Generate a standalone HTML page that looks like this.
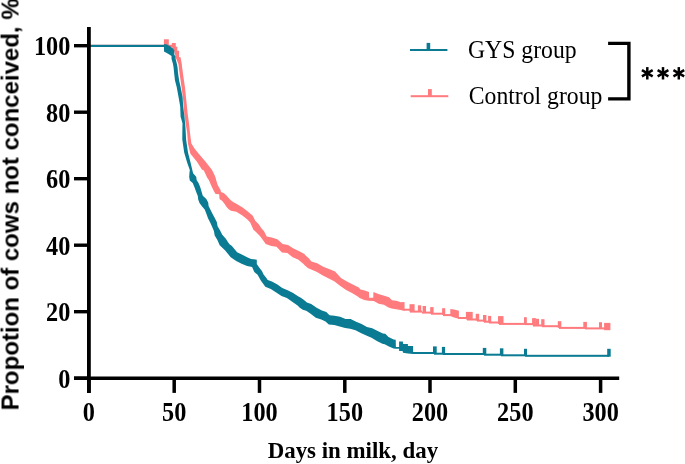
<!DOCTYPE html>
<html><head><meta charset="utf-8"><style>
html,body{margin:0;padding:0;background:#fff;}
body{width:685px;height:464px;overflow:hidden;position:relative;}
svg{position:absolute;left:0;top:0;}
text{will-change:transform;}
.tk{font-family:"Liberation Serif",serif;font-weight:bold;font-size:24.3px;fill:#000;}
.lg{font-family:"Liberation Serif",serif;font-size:23.7px;fill:#000;}
.xt{font-family:"Liberation Serif",serif;font-weight:bold;font-size:22.9px;fill:#000;}
.yt{font-family:"Liberation Sans",sans-serif;font-weight:bold;font-size:24.0px;fill:#000;}
</style></head><body>
<svg width="685" height="464" viewBox="0 0 685 464">
<rect x="89" y="44.8" width="84" height="2.2" fill="#ff7b7e"/><polygon points="171.8,43.1 175.8,43.1 175.8,46.8 177.3,46.8 177.3,50.7 179.1,50.7 179.1,56.9 180.5,57.3 181.8,63.9 182.1,67.1 183.2,75.3 185.1,88.3 186.4,101.2 187.7,114.1 189.0,123.2 190.0,132.9 191.3,143.3 194.5,148.4 198.5,153.5 205.2,161.3 211.9,169.8 214.5,174.9 215.6,177.8 216.1,180.1 217.8,185.2 220.8,190.5 220.9,191.9 223.7,193.1 226.5,195.6 228.7,198.1 230.7,200.3 233.2,202.0 236.4,203.7 243.0,207.8 248.1,211.7 252.8,215.7 255.4,220.9 258.6,224.1 261.2,228.0 264.2,231.6 266.7,236.5 271.7,237.5 277.3,239.2 282.7,244.1 288.0,245.1 293.5,248.4 298.9,251.1 304.4,253.9 305.6,255.5 308.8,258.2 311.4,261.4 317.2,263.2 323.2,266.7 329.0,269.1 335.1,271.5 341.0,278.1 346.9,281.6 352.8,284.5 358.8,287.6 360.5,289.6 364.7,290.6 369.0,292.0 369.2,297.7 373.3,297.7 373.4,292.0 379.1,294.2 384.3,295.7 389.0,297.3 392.0,300.3 396.3,300.7 400.8,302.2 404.5,302.1 404.6,308.8 404.6,311.0 400.6,310.0 396.1,309.3 391.6,308.5 388.5,307.4 383.9,304.8 378.7,303.7 373.8,301.1 368.4,300.8 364.3,300.1 359.6,298.1 357.8,296.5 352.0,293.0 346.1,290.1 340.0,285.8 334.2,281.2 328.3,278.2 322.4,275.3 316.5,271.7 310.6,269.3 307.8,268.1 304.4,265.0 303.3,263.7 298.1,259.5 292.7,257.3 287.4,253.1 281.9,252.6 276.5,246.7 271.3,246.1 265.7,243.9 262.9,240.1 259.7,235.8 255.5,231.6 253.4,229.8 252.1,226.7 250.2,222.4 247.1,219.3 242.0,215.2 236.3,211.8 230.9,210.7 228.4,209.0 226.6,207.0 224.6,204.0 222.3,201.1 219.5,199.0 219.2,194.3 215.6,194.0 213.8,191.1 211.3,185.8 209.1,180.6 206.9,177.3 206.2,175.4 203.8,170.4 201.9,169.5 196.8,161.5 190.4,153.7 189.1,148.5 187.9,143.3 187.2,132.9 185.6,123.2 184.3,114.1 183.3,101.2 181.7,88.3 179.8,75.3 178.4,64.0 175.7,57.4 174.1,50.8 171.9,46.9" fill="#ff7b7e"/><rect x="404.0" y="308.70" width="6.0" height="2.0" fill="#ff7b7e"/><rect x="410.0" y="310.60" width="12.0" height="2.0" fill="#ff7b7e"/><rect x="422.0" y="311.60" width="9.0" height="2.0" fill="#ff7b7e"/><rect x="431.0" y="312.70" width="12.0" height="2.0" fill="#ff7b7e"/><rect x="443.0" y="314.10" width="8.0" height="2.0" fill="#ff7b7e"/><rect x="458.0" y="317.00" width="9.0" height="2.0" fill="#ff7b7e"/><rect x="467.0" y="318.50" width="10.0" height="2.0" fill="#ff7b7e"/><rect x="477.0" y="319.60" width="7.0" height="2.0" fill="#ff7b7e"/><rect x="484.0" y="320.70" width="5.0" height="2.0" fill="#ff7b7e"/><rect x="489.0" y="321.50" width="10.0" height="2.0" fill="#ff7b7e"/><rect x="499.0" y="322.90" width="26.0" height="2.0" fill="#ff7b7e"/><rect x="525.0" y="323.10" width="8.0" height="2.0" fill="#ff7b7e"/><rect x="533.0" y="324.50" width="9.0" height="2.0" fill="#ff7b7e"/><rect x="542.0" y="325.20" width="17.0" height="2.0" fill="#ff7b7e"/><rect x="559.0" y="326.90" width="26.0" height="2.0" fill="#ff7b7e"/><rect x="585.0" y="327.40" width="21.0" height="2.0" fill="#ff7b7e"/><rect x="409.5" y="304.2" width="5.1" height="7.7" fill="#ff7b7e"/><rect x="417.9" y="305.3" width="3.3" height="6.7" fill="#ff7b7e"/><rect x="422.6" y="306.0" width="3.4" height="6.6" fill="#ff7b7e"/><rect x="430.2" y="307.1" width="3.4" height="6.6" fill="#ff7b7e"/><rect x="442.1" y="308.2" width="3.1" height="6.8" fill="#ff7b7e"/><rect x="465.9" y="311.9" width="6.8" height="7.6" fill="#ff7b7e"/><rect x="475.7" y="313.8" width="3.5" height="6.8" fill="#ff7b7e"/><rect x="483.0" y="315.0" width="3.4" height="6.7" fill="#ff7b7e"/><rect x="488.1" y="315.9" width="3.1" height="6.6" fill="#ff7b7e"/><rect x="498.0" y="316.1" width="5.5" height="7.8" fill="#ff7b7e"/><rect x="524.0" y="317.2" width="2.8" height="6.9" fill="#ff7b7e"/><rect x="532.1" y="318.1" width="3.8" height="7.1" fill="#ff7b7e"/><rect x="535.9" y="318.8" width="3.1" height="6.7" fill="#ff7b7e"/><rect x="541.2" y="319.2" width="3.3" height="7.0" fill="#ff7b7e"/><rect x="557.8" y="321.2" width="3.5" height="6.7" fill="#ff7b7e"/><rect x="583.3" y="321.9" width="3.6" height="6.5" fill="#ff7b7e"/><rect x="599.0" y="322.2" width="3.0" height="6.8" fill="#ff7b7e"/><rect x="604.1" y="322.9" width="6.3" height="7.3" fill="#ff7b7e"/><rect x="163.9" y="39.3" width="4.9" height="5.7" fill="#ff7b7e"/><polygon points="450.3,308.9 454.0,309.5 458.9,310.8 458.9,318.8 454.0,317.5 450.3,315.9" fill="#ff7b7e"/><rect x="89" y="44.8" width="76" height="2.2" fill="#0a7b93"/><polygon points="164.0,44.2 166.5,44.2 170.4,46.4 173.0,48.5 174.3,50.3 174.3,54.7 175.6,56.4 175.6,58.7 176.9,63.9 177.6,67.7 178.0,72.8 179.1,80.5 180.6,87.0 182.6,97.3 183.2,106.4 184.5,116.7 185.1,123.2 185.5,127.8 186.1,139.4 188.0,152.4 190.6,162.7 192.3,170.0 193.1,173.3 196.2,176.8 196.7,180.2 198.4,182.7 200.2,187.1 201.5,191.5 202.8,195.7 206.3,199.0 208.2,202.6 208.6,206.0 210.1,209.0 212.2,213.3 214.5,217.6 216.8,221.9 217.6,226.3 220.1,230.5 222.3,234.7 226.0,239.0 228.2,242.4 229.8,244.4 231.7,245.7 237.1,252.2 242.3,254.8 247.6,257.5 251.1,259.0 256.8,259.7 256.8,264.1 259.2,267.4 261.9,270.9 263.6,274.4 266.2,277.7 267.7,280.1 271.9,281.6 277.0,284.2 282.3,288.0 287.6,290.2 293.1,292.9 298.5,296.6 300.4,297.5 303.7,299.8 306.9,302.4 311.2,304.0 316.6,307.8 321.9,310.5 326.3,312.1 329.5,315.2 334.6,315.8 340.1,316.8 345.5,319.0 350.6,319.0 356.1,321.8 361.6,324.0 366.9,327.1 372.2,328.2 377.7,331.0 382.9,333.6 385.3,333.7 388.5,336.9 393.6,339.6 395.7,339.8 395.9,346.9 399.1,346.9 399.1,341.5 402.8,341.5 403.2,343.9 407.9,343.9 407.9,346.0 413.1,346.0 413.1,352.1 413.1,354.1 407.8,353.5 403.0,352.7 402.6,351.0 399.1,351.0 399.1,348.8 395.8,348.8 393.5,348.4 388.9,346.4 384.7,344.3 382.4,343.8 376.9,341.0 371.5,337.8 366.3,335.6 360.8,332.9 355.5,330.2 350.2,328.7 345.1,328.1 339.7,326.5 334.3,324.9 328.8,324.4 325.5,321.6 321.3,319.4 315.8,317.8 310.3,313.5 306.2,310.8 302.8,309.7 299.5,307.5 297.6,305.5 292.2,301.8 286.9,298.0 281.5,295.9 276.2,292.6 270.8,288.9 265.3,286.7 260.8,280.5 257.6,274.7 254.3,272.0 252.1,267.0 247.1,266.0 241.6,263.7 236.2,261.0 230.7,257.2 225.2,250.6 219.7,245.2 217.4,239.9 214.7,235.5 213.9,231.1 212.2,226.9 210.2,222.5 208.0,218.2 206.4,213.8 204.7,209.6 202.1,206.5 199.5,203.0 198.2,199.4 197.8,196.0 196.1,191.7 194.5,187.3 192.7,183.0 189.8,180.4 189.2,176.9 189.4,173.4 189.8,170.0 187.2,162.7 184.2,152.4 182.3,139.4 182.4,127.8 182.5,123.2 180.6,116.7 180.2,106.4 178.6,97.3 176.7,87.0 175.0,80.5 174.1,72.8 173.6,67.7 173.0,63.9 171.5,58.7 171.5,56.1 168.5,53.9 164.0,51.5" fill="#0a7b93"/><rect x="413.0" y="352.00" width="21.0" height="2.0" fill="#0a7b93"/><rect x="434.0" y="352.70" width="9.0" height="2.0" fill="#0a7b93"/><rect x="443.0" y="353.00" width="41.0" height="2.0" fill="#0a7b93"/><rect x="484.0" y="353.70" width="17.0" height="2.0" fill="#0a7b93"/><rect x="501.0" y="354.30" width="24.0" height="2.0" fill="#0a7b93"/><rect x="525.0" y="354.80" width="84.0" height="2.0" fill="#0a7b93"/><rect x="433.0" y="346.4" width="3.7" height="7.1" fill="#0a7b93"/><rect x="441.9" y="346.9" width="3.2" height="7.3" fill="#0a7b93"/><rect x="482.8" y="347.9" width="3.5" height="6.7" fill="#0a7b93"/><rect x="499.9" y="348.3" width="3.5" height="6.9" fill="#0a7b93"/><rect x="524.0" y="348.8" width="3.0" height="7.0" fill="#0a7b93"/><rect x="607.2" y="348.8" width="3.5" height="7.9" fill="#0a7b93"/>
<line x1="88.9" y1="26.9" x2="88.9" y2="393" stroke="#000" stroke-width="3.8"/><line x1="74" y1="378.2" x2="619.2" y2="378.2" stroke="#000" stroke-width="3.4"/><line x1="74" y1="378.2" x2="88.9" y2="378.2" stroke="#000" stroke-width="3.4"/><line x1="74" y1="311.7" x2="88.9" y2="311.7" stroke="#000" stroke-width="3.4"/><line x1="74" y1="245.2" x2="88.9" y2="245.2" stroke="#000" stroke-width="3.4"/><line x1="74" y1="178.7" x2="88.9" y2="178.7" stroke="#000" stroke-width="3.4"/><line x1="74" y1="112.2" x2="88.9" y2="112.2" stroke="#000" stroke-width="3.4"/><line x1="74" y1="45.7" x2="88.9" y2="45.7" stroke="#000" stroke-width="3.4"/><line x1="88.9" y1="378.2" x2="88.9" y2="392.9" stroke="#000" stroke-width="3.5"/><line x1="174.2" y1="378.2" x2="174.2" y2="392.9" stroke="#000" stroke-width="3.5"/><line x1="259.5" y1="378.2" x2="259.5" y2="392.9" stroke="#000" stroke-width="3.5"/><line x1="344.8" y1="378.2" x2="344.8" y2="392.9" stroke="#000" stroke-width="3.5"/><line x1="430.0" y1="378.2" x2="430.0" y2="392.9" stroke="#000" stroke-width="3.5"/><line x1="515.3" y1="378.2" x2="515.3" y2="392.9" stroke="#000" stroke-width="3.5"/><line x1="600.6" y1="378.2" x2="600.6" y2="392.9" stroke="#000" stroke-width="3.5"/>
<text transform="translate(70.3,387.9) scale(1,1.12)" text-anchor="end" class="tk">0</text><text transform="translate(70.3,321.4) scale(1,1.12)" text-anchor="end" class="tk">20</text><text transform="translate(70.3,254.9) scale(1,1.12)" text-anchor="end" class="tk">40</text><text transform="translate(70.3,188.4) scale(1,1.12)" text-anchor="end" class="tk">60</text><text transform="translate(70.3,121.9) scale(1,1.12)" text-anchor="end" class="tk">80</text><text transform="translate(70.3,55.4) scale(1,1.12)" text-anchor="end" class="tk">100</text><text transform="translate(88.9,420.7) scale(1,1.12)" text-anchor="middle" class="tk">0</text><text transform="translate(174.2,420.7) scale(1,1.12)" text-anchor="middle" class="tk">50</text><text transform="translate(259.5,420.7) scale(1,1.12)" text-anchor="middle" class="tk">100</text><text transform="translate(344.8,420.7) scale(1,1.12)" text-anchor="middle" class="tk">150</text><text transform="translate(430.0,420.7) scale(1,1.12)" text-anchor="middle" class="tk">200</text><text transform="translate(515.3,420.7) scale(1,1.12)" text-anchor="middle" class="tk">250</text><text transform="translate(600.6,420.7) scale(1,1.12)" text-anchor="middle" class="tk">300</text>
<text transform="translate(352.9,457.6) scale(1,1.04)" text-anchor="middle" class="xt">Days in milk, day</text>
<text transform="translate(18.2,410.4) rotate(-90) scale(1,1.03)" class="yt">Propotion of cows not conceived, %</text>
<rect x="410" y="49" width="37.4" height="2" fill="#0a7b93"/><rect x="426.6" y="42.9" width="3.6" height="7" fill="#0a7b93"/><rect x="410.7" y="95.2" width="37.6" height="2" fill="#ff7b7e"/><rect x="428" y="89.1" width="3.8" height="7" fill="#ff7b7e"/><text transform="translate(468.0,57.6) scale(1,1.08)" class="lg">GYS group</text><text transform="translate(468.8,103.9) scale(1,1.08)" class="lg">Control group</text><polyline points="608.1,43.4 628.9,43.4 628.9,98.9 608.1,98.9" fill="none" stroke="#000" stroke-width="3.4" stroke-linejoin="miter"/><line x1="647.30" y1="67.10" x2="647.30" y2="79.50" stroke="#000" stroke-width="2.5"/><line x1="641.93" y1="70.20" x2="652.67" y2="76.40" stroke="#000" stroke-width="2.5"/><line x1="652.67" y1="70.20" x2="641.93" y2="76.40" stroke="#000" stroke-width="2.5"/><line x1="663.00" y1="67.10" x2="663.00" y2="79.50" stroke="#000" stroke-width="2.5"/><line x1="657.63" y1="70.20" x2="668.37" y2="76.40" stroke="#000" stroke-width="2.5"/><line x1="668.37" y1="70.20" x2="657.63" y2="76.40" stroke="#000" stroke-width="2.5"/><line x1="678.80" y1="67.10" x2="678.80" y2="79.50" stroke="#000" stroke-width="2.5"/><line x1="673.43" y1="70.20" x2="684.17" y2="76.40" stroke="#000" stroke-width="2.5"/><line x1="684.17" y1="70.20" x2="673.43" y2="76.40" stroke="#000" stroke-width="2.5"/>
</svg>
</body></html>
